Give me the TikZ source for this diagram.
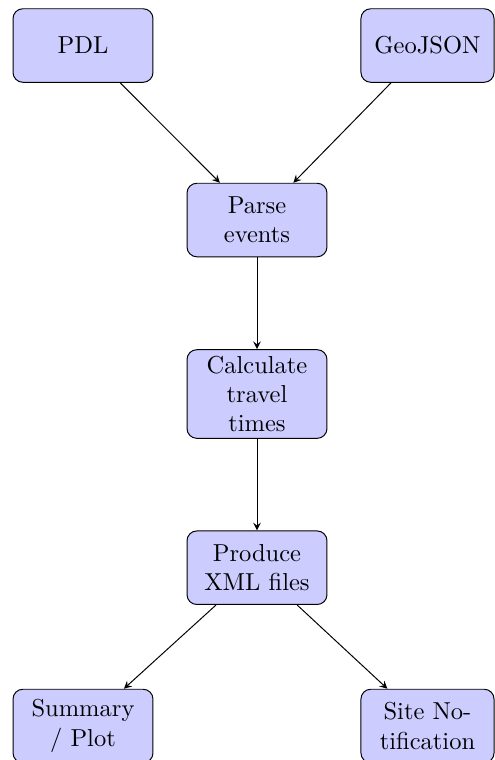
\documentclass[tikz,border=0pt]{standalone}
\usetikzlibrary{arrows}
\begin{document}
\begin{tikzpicture}[x=0.408pt,y=-0.408pt,
  block/.style={rectangle, draw, fill=blue!20, rounded corners=4pt,
    align=center, minimum width=57.1pt, minimum height=30pt, inner sep=3.33pt},
  narrow/.style={block, minimum width=54.3pt},
  line/.style={draw, -stealth}]
\useasboundingbox (0,0) rectangle (495,760);
\node[block]  (pdl)   at (83,45.5)   {PDL};
\node[narrow] (geo)   at (427.5,45.5) {GeoJSON};
\node[block]  (parse) at (257,220)   {Parse\\events};
\node[block, inner ysep=2.5pt]  (calc)  at (257,394)   {Calculate\\travel\\times};
\node[block]  (xml)   at (257,567.7) {Produce\\XML files};
\node[block]  (sum)   at (83,726)    {Summary\\/ Plot};
\node[narrow] (site)  at (427.5,726) {Site No-\\tification};
\path[line] (pdl) -- (parse);
\path[line] (geo) -- (parse);
\path[line] (parse) -- (calc);
\path[line] (calc) -- (xml);
\path[line] (xml) -- (sum);
\path[line] (xml) -- (site);
\end{tikzpicture}
\end{document}
